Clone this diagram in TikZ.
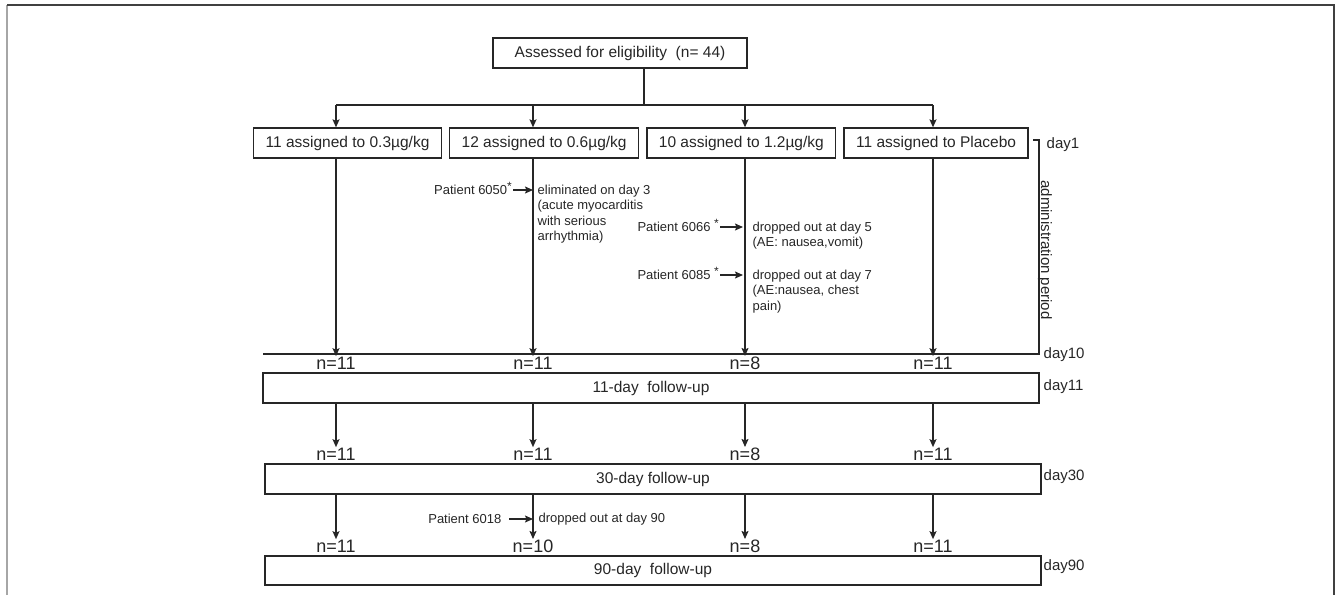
\documentclass[tikz,border=0pt]{standalone}
\usepackage{fontspec}
\setmainfont{Liberation Sans}
\usetikzlibrary{positioning, calc, chains, arrows.meta}
\colorlet{ink}{black!85}

\begin{document}
\begin{tikzpicture}[x=1pt, y=-1pt, line width=1.3pt, color=ink,
    >={Stealth[length=8pt,width=7pt,inset=1.5pt]},
    box/.style={draw, rectangle, minimum height=30pt, inner xsep=12pt,
      font=\fontsize{15.5}{18}\selectfont},
    stage/.style={box, minimum width=776pt},
    count/.style={inner sep=0pt, font=\fontsize{18}{20}\selectfont},
    note/.style={inner sep=0pt, align=left, font=\fontsize{13}{15.5}\selectfont},
    day/.style={inner sep=0pt, anchor=west, font=\fontsize{15}{18}\selectfont},
    start chain, node distance=7pt]

  \useasboundingbox (0,0) rectangle (1339,595);
  \draw[black!35] (7,595) -- (7,5);
  \draw[black!75] (7,5) -- (1334,5) -- (1334,595);

  \node[box, minimum width=254pt] (top) at (620,53) {Assessed for eligibility\ \ (n= 44)};
  \coordinate (split) at (644,105);
  \coordinate (c1) at (336,105);
  \coordinate (c2) at (533,105);
  \coordinate (c3) at (745,105);
  \coordinate (c4) at (933,105);
  \draw (top.south -| split) -- (split);
  \draw (c1) -- (c4);

  \node[box, on chain, anchor=west] (g1) at (253,143) {11 assigned to 0.3µg/kg};
  \node[box, on chain] (g2) {12 assigned to 0.6µg/kg};
  \node[box, on chain] (g3) {10 assigned to 1.2µg/kg};
  \node[box, on chain] (g4) {11 assigned to Placebo};
  \draw[->] (c1) -- (c1 |- g1.north);
  \draw[->] (c2) -- (c2 |- g2.north);
  \draw[->] (c3) -- (c3 |- g3.north);
  \draw[->] (c4) -- (c4 |- g4.north);

  \node[count] (n1) at (336,363) {n=11};
  \node[count] (n2) at (533,363) {n=11};
  \node[count] (n3) at (745,363) {n=8};
  \node[count] (n4) at (933,363) {n=11};
  \draw[->] (g1.south -| n1) -- (n1.north);
  \draw[->] (g2.south -| n2) -- (n2.north);
  \draw[->] (g3.south -| n3) -- (n3.north);
  \draw[->] (g4.south -| n4) -- (n4.north);

  \coordinate (endl) at (263,354);
  \coordinate (endr) at (1039,354);
  \coordinate (bt) at (1039,140);
  \draw (endl) -- (endr) -- (bt) -- ++(-6,0);
  \node[day] (d1) at (1046,145) {day1};
  \node[day] (d10) at (1043,355) {day10};
  \node[inner sep=0pt, rotate=-90, font=\fontsize{15}{18}\selectfont] (adm) at (1045,250) {administration period};

  \node[note, anchor=east] (p6050) at (513,190) {Patient 6050\smash{\textsuperscript{\large *}}};
  \node[note, anchor=north west] (e6050) at (537,184) {eliminated on day 3\\(acute myocarditis\\with serious\\arrhythmia)};
  \draw[->] (p6050.east) -- (p6050 -| c2);
  \node[note, anchor=east] (p6066) at (720,227) {Patient 6066 \smash{\textsuperscript{\large *}}};
  \node[note, anchor=north west] (e6066) at (752,221) {dropped out at day 5\\(AE: nausea,vomit)};
  \draw[->, shorten >=2pt] (p6066.east) -- (p6066 -| c3);
  \node[note, anchor=east] (p6085) at (720,275) {Patient 6085 \smash{\textsuperscript{\large *}}};
  \node[note, anchor=north west] (e6085) at (752,269) {dropped out at day 7\\(AE:nausea, chest\\pain)};
  \draw[->, shorten >=2pt] (p6085.east) -- (p6085 -| c3);

  \node[stage] (f11) at (651,388) {11-day\ \ follow-up};
  \node[day] (d11) at (1043,387) {day11};
  \node[count] (m1) at (336,454) {n=11};
  \node[count] (m2) at (533,454) {n=11};
  \node[count] (m3) at (745,454) {n=8};
  \node[count] (m4) at (933,454) {n=11};
  \draw[->] (f11.south -| m1) -- (m1.north);
  \draw[->] (f11.south -| m2) -- (m2.north);
  \draw[->] (f11.south -| m3) -- (m3.north);
  \draw[->] (f11.south -| m4) -- (m4.north);

  \node[stage] (f30) at (653,479) {30-day follow-up};
  \node[day] (d30) at (1043,477) {day30};
  \node[count] (k1) at (336,546) {n=11};
  \node[count] (k2) at (533,546) {n=10};
  \node[count] (k3) at (745,546) {n=8};
  \node[count] (k4) at (933,546) {n=11};
  \draw[->] (f30.south -| k1) -- (k1.north);
  \draw[->] (f30.south -| k2) -- (k2.north);
  \draw[->] (f30.south -| k3) -- (k3.north);
  \draw[->] (f30.south -| k4) -- (k4.north);

  \node[note, anchor=east] (p6018) at (502,519) {Patient 6018};
  \node[note, anchor=west] (e6018) at (538,519) {dropped out at day 90};
  \draw[->, shorten <=7pt] (p6018.east) -- (p6018 -| c2);

  \node[stage, minimum height=29pt] (f90) at (653,570.5) {90-day\ \ follow-up};
  \node[day] (d90) at (1043,567) {day90};
\end{tikzpicture}
\end{document}
